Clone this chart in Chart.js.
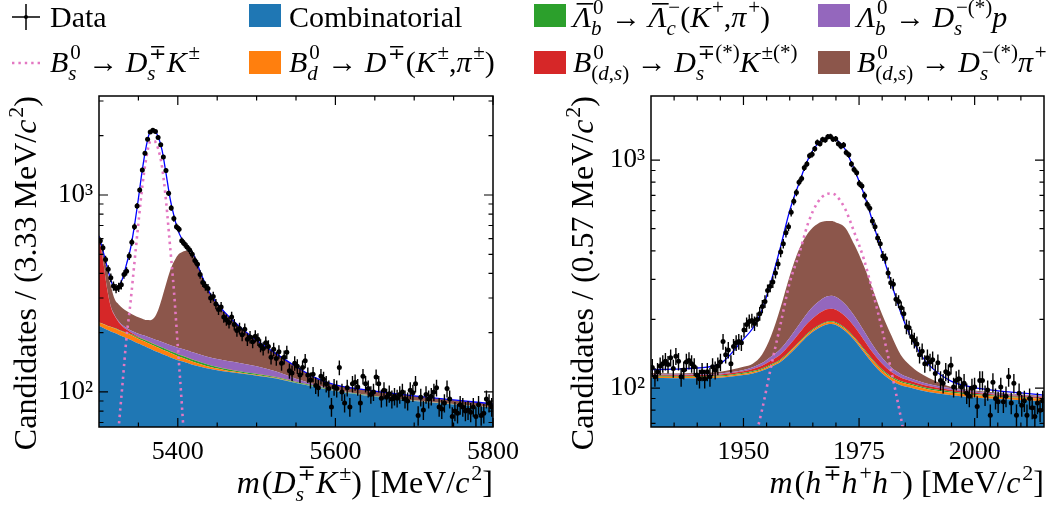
<!DOCTYPE html>
<html>
<head>
<meta charset="utf-8">
<script src="https://cdn.jsdelivr.net/npm/chart.js@4.4.1/dist/chart.umd.min.js"></script>
<style>
  html, body { margin: 0; padding: 0; background: #fff; overflow: hidden; font-family: "Liberation Serif", serif; }
  #wrap { position: relative; width: 1051px; height: 507px; }
  #left { position: absolute; left: 0; top: 0; }
  #right { position: absolute; left: 525px; top: 0; }
  .probe { position: absolute; left: -999px; top: 0; font-family: "Liberation Serif"; }
</style>
</head>
<body>
<div id="wrap">
  <canvas id="left" width="1051" height="507"></canvas>
  <canvas id="right" width="526" height="507"></canvas>
</div>
<span class="probe">x</span><span class="probe" style="font-style:italic">x</span>
<script>
// ---------- left panel: m(Ds K), 150 bins of 3.33 MeV ----------
const leftRange = [5300, 5800];
const leftYRange = [66.4, 3181];
const leftCounts = [
  585, 540, 470, 420, 380, 345, 335, 340, 350, 395, 410, 490, 575, 690, 880, 1060, 1340, 1630, 1920, 2090,
  2130, 2100, 1960, 1800, 1560, 1330, 1020, 860, 760, 690, 670, 585, 565, 545, 525, 500, 465, 445, 395, 360,
  345, 335, 300, 305, 280, 262, 270, 240, 232, 225, 240, 220, 205, 210, 195, 208, 185, 190, 180, 192,
  185, 172, 166, 178, 170, 150, 165, 148, 160, 140, 150, 159, 128, 125, 140, 135, 122, 133, 144, 122,
  115, 123, 108, 105, 120, 116, 110, 104, 84, 106, 104, 133, 100, 88, 105, 84, 110, 112, 106, 88,
  120, 110, 104, 97, 100, 119, 110, 93, 102, 94, 98, 92, 95, 93, 97, 100, 92, 90, 102, 99,
  110, 76, 94, 81, 97, 92, 95, 100, 105, 84, 82, 88, 104, 92, 75, 80, 78, 86, 84, 80,
  81, 79, 84, 75, 86, 76, 78, 92, 88, 84
];
const leftCurveX = [5300, 5305, 5310, 5315, 5320, 5325, 5330, 5335, 5340, 5345, 5350, 5355, 5360, 5365, 5370,
  5375, 5380, 5385, 5390, 5395, 5400, 5405, 5410, 5415, 5420, 5430, 5440, 5450, 5460, 5470, 5480, 5490, 5500,
  5525, 5550, 5575, 5600, 5650, 5700, 5750, 5800];
const leftComb = [216, 212, 207, 203, 199, 195, 191, 187.5, 184, 180, 176, 172.5, 169, 165.5, 162,
  159, 156, 153, 150, 147.5, 145, 143, 141, 139, 137, 134, 131, 129, 127, 125.5, 124, 122.5, 121,
  117, 111, 106, 101, 94.5, 90, 86.5, 83.5];
const leftBdDK = [9, 9.5, 10, 10.5, 11, 11, 11, 11, 11, 10.8, 10.5, 10.2, 10, 9.8, 9.5,
  9, 8.5, 8.2, 8, 7.5, 7, 6.5, 6, 5.5, 5, 4, 3.2, 2.5, 2, 1.5, 1.2, 1, 0.9,
  0.7, 0.5, 0.4, 0.3, 0.2, 0.2, 0.1, 0.1];
const leftLbLc = [0.3, 0.4, 0.5, 0.7, 1, 1.2, 1.5, 1.8, 2, 2.3, 2.5, 2.8, 3, 3.2, 3.3,
  3.4, 3.5, 3.5, 3.6, 3.6, 3.6, 3.6, 3.5, 3.4, 3.3, 3, 2.8, 2.5, 2.2, 2, 1.8, 1.6, 1.5,
  1.2, 1, 0.8, 0.6, 0.4, 0.3, 0.2, 0.1];
const leftBDsKst = [375, 248, 122, 56, 32, 19, 11.5, 7, 4, 2.5, 1.5, 1, 0.8, 0.6, 0.5,
  0.4, 0.4, 0.4, 0.3, 0.3, 0.3, 0.3, 0.3, 0.3, 0.3, 0.2, 0.2, 0.2, 0.2, 0.2, 0.2, 0.2, 0.2,
  0.1, 0.1, 0.1, 0.1, 0.1, 0.1, 0.1, 0.1];
const leftLbDsp = [0, 0.2, 0.5, 1, 1.5, 2.2, 3, 4, 5, 6, 7, 8, 9, 9.5, 10,
  10.5, 11, 11.2, 11.5, 11.8, 12, 12.2, 12.5, 12.8, 13, 13, 13, 13, 13, 13, 12.5, 12, 11.5,
  8, 4, 1.5, 0.5, 0.2, 0.1, 0.1, 0.1];
const leftBDspi = [12, 40, 80, 74, 51, 50, 48, 46, 44, 43, 42, 41, 40, 43, 53,
  78, 121, 176, 237, 287, 327, 346, 358, 351, 331, 236, 170, 133, 108, 88, 72, 59, 48,
  29, 18, 9, 6, 5.6, 4.8, 4, 3.1];
const leftBsDsK = [8, 12, 17, 25, 38, 66, 112, 190, 285, 455, 720, 1110, 1540, 1860, 1880,
  1720, 1390, 940, 560, 330, 170, 88, 42, 18, 8, 3, 1, 0.5, 0.3, 0.2, 0.1, 0.1, 0.1,
  0.1, 0.1, 0.1, 0.1, 0.1, 0.1, 0.1, 0.1];

// ---------- right panel: m(h h h), 150 bins of 0.57 MeV ----------
const rightRange = [1930, 2015];
const rightYRange = [67.5, 1910];
const rightCounts = [
  123, 112, 118, 125, 128, 131, 127, 136, 122, 138, 131, 112, 120, 130, 132, 128, 124, 114, 110, 118,
  110, 118, 112, 124, 120, 125, 130, 160, 140, 147, 128, 152, 158, 160, 158, 180, 190, 196, 198, 192,
  200, 212, 228, 240, 268, 280, 292, 320, 350, 395, 430, 480, 510, 590, 660, 720, 800, 830, 925, 960,
  1045, 1060, 1120, 1195, 1180, 1230, 1225, 1265, 1270, 1235, 1240, 1180, 1150, 1165, 1080, 1055, 960, 910, 880, 790,
  770, 700, 640, 615, 540, 510, 455, 430, 380, 370, 320, 290, 285, 245, 240, 225, 212, 186, 184, 168,
  162, 156, 140, 145, 128, 136, 130, 133, 116, 129, 108, 105, 118, 116, 126, 101, 108, 110, 101, 105,
  95, 92, 100, 101, 83, 108, 108, 93, 98, 76, 106, 90, 87, 101, 87, 92, 112, 86, 105, 76,
  95, 84, 88, 76, 90, 82, 75, 86, 80, 88
];
const rightCurveX = [1930, 1935, 1940, 1945, 1950, 1952, 1954, 1956, 1958, 1960, 1962, 1964, 1966, 1968, 1969,
  1970, 1972, 1974, 1976, 1978, 1980, 1982, 1984, 1986, 1988, 1990, 1995, 2000, 2005, 2010, 2015];
const rightComb = [111, 110.5, 110.5, 111, 114, 116, 119, 124, 130, 141, 155, 170, 182, 190, 191,
  189, 178, 162, 144, 128, 116, 108, 103, 100.5, 98, 96, 93, 91, 89.5, 88.5, 87.5];
const rightBdDK = [1.5, 1.5, 1.5, 1.5, 1.6, 1.6, 1.7, 2, 2.2, 2.5, 2.9, 3.2, 3.5, 3.7, 3.7,
  3.7, 3.6, 3.5, 3.4, 3.3, 3.2, 3.1, 3, 2.9, 2.8, 2.7, 2.5, 2.3, 2.2, 2.1, 2];
const rightLbLc = [1, 1, 1, 1, 1.1, 1.1, 1.1, 1.2, 1.3, 1.4, 1.5, 1.6, 1.7, 1.8, 1.8,
  1.8, 1.8, 1.7, 1.6, 1.5, 1.5, 1.4, 1.4, 1.3, 1.3, 1.2, 1.1, 1, 0.9, 0.9, 0.8];
const rightBDsKst = [0.8, 0.8, 1, 1.3, 1.8, 2.4, 3.4, 5, 7, 10, 14, 19, 23, 26, 26.5,
  26, 23, 18.5, 14, 10, 7, 5, 3.8, 3, 2.5, 2.2, 1.6, 1.2, 1, 0.8, 0.7];
const rightLbDsp = [0.8, 0.8, 0.9, 1.1, 1.5, 2.2, 3.5, 5.5, 8, 11.5, 16, 22, 27, 30.5, 31,
  30.5, 27, 21.5, 16, 11.5, 8, 5.5, 4, 3, 2.5, 2.2, 1.6, 1.2, 1, 0.8, 0.7];
const rightBDspi = [1.4, 1.4, 1.6, 2.1, 4, 4.7, 11.3, 32.3, 76.5, 143.6, 215.6, 264.2, 287.8, 288, 286,
  282, 271.6, 217.8, 166, 115.7, 74.3, 47, 24.8, 15.3, 9.9, 6.7, 1.2, 0.8, 0.7, 0.6, 0.5];
const rightBsDsK = [4, 5, 6, 10, 40, 55, 80, 125, 190, 290, 385, 530, 650, 710, 714,
  700, 610, 480, 370, 262, 180, 118, 75, 45, 27, 16, 6, 3, 2, 1.5, 1];

// ---------- ticks ----------
const leftXLabels = [5400, 5600, 5800];
const leftXMinor = [5350, 5450, 5500, 5550, 5650, 5700, 5750];
const rightXLabels = [1950, 1975, 2000];
const rightXMinor = [1935, 1940, 1945, 1955, 1960, 1965, 1970, 1980, 1985, 1990, 1995, 2005, 2010];
const yLabels = [100, 1000];
const yLabelText = { 100: '10²', 1000: '10³' };
const leftYMinor = [70, 80, 90, 200, 300, 400, 500, 600, 700, 800, 900, 2000, 3000];
const rightYMinor = [70, 80, 90, 200, 300, 400, 500, 600, 700, 800, 900];

// ---------- text (tokens: [text, flags]; i italic, b sub, p sup, o overline) ----------
const labelData = [['Data']];
const labelSignal = [['B', 'i'], ['s', 'ib'], ['0', 'p'], [' → '], ['D', 'i'], ['s', 'ib'], ['∓', 'p'], ['K', 'i'], ['±', 'p']];
const labelComb = [['Combinatorial']];
const labelBdDK = [['B', 'i'], ['d', 'ib'], ['0', 'p'], [' → '], ['D', 'i'], ['∓', 'p'], ['('], ['K', 'i'], ['±', 'p'], [','], ['π', 'i'], ['±', 'p'], [')']];
const labelLbLc = [['Λ', 'io'], ['b', 'ib'], ['0', 'p'], [' → '], ['Λ', 'io'], ['c', 'ib'], ['−', 'p'], ['('], ['K', 'i'], ['+', 'p'], [','], ['π', 'i'], ['+', 'p'], [')']];
const labelBDsKst = [['B', 'i'], ['(', 'b'], ['d', 'ib'], [',', 'b'], ['s', 'ib'], [')', 'b'], ['0', 'p'], [' → '], ['D', 'i'], ['s', 'ib'], ['∓(*)', 'p'], ['K', 'i'], ['±(*)', 'p']];
const labelLbDsp = [['Λ', 'i'], ['b', 'ib'], ['0', 'p'], [' → '], ['D', 'i'], ['s', 'ib'], ['−(*)', 'p'], ['p', 'i']];
const labelBDspi = [['B', 'i'], ['(', 'b'], ['d', 'ib'], [',', 'b'], ['s', 'ib'], [')', 'b'], ['0', 'p'], [' → '], ['D', 'i'], ['s', 'ib'], ['−(*)', 'p'], ['π', 'i'], ['+', 'p']];
const leftXTitle = [['m', 'i'], ['('], ['D', 'i'], ['s', 'ib'], ['∓', 'p'], ['K', 'i'], ['±', 'p'], [')'], [' [MeV/'], ['c', 'i'], ['2', 'p'], [']']];
const rightXTitle = [['m', 'i'], ['('], ['h', 'i'], ['∓', 'p'], ['h', 'i'], ['+', 'p'], ['h', 'i'], ['−', 'p'], [')'], [' [MeV/'], ['c', 'i'], ['2', 'p'], [']']];
const leftYTitle = [['Candidates / (3.33 MeV/'], ['c', 'i'], ['2', 'p'], [')']];
const rightYTitle = [['Candidates / (0.57 MeV/'], ['c', 'i'], ['2', 'p'], [')']];

const FONT = '"Liberation Serif", "DejaVu Serif", serif';
const LEGEND_SIZE = 30;
const TITLE_SIZE = 32;
const COLORS = ['#1f77b4', '#ff7f0e', '#2ca02c', '#d62728', '#9467bd', '#8c564b'];
const PINK = '#e377c2';

function layoutRich(ctx, tokens, size) {
  let x = 0, subPen = 0, supPen = 0;
  const items = [];
  for (const [t, f = ''] of tokens) {
    const sub = f.includes('b'), sup = f.includes('p');
    const fs = Math.round((sub || sup) ? size * 0.7 : size);
    const font = (f.includes('i') ? 'italic ' : '') + fs + 'px ' + FONT;
    ctx.font = font;
    const w = ctx.measureText(t).width;
    if (sub) { items.push({ t, font, x: subPen, dy: size * 0.25, w }); subPen += w; }
    else if (sup) { items.push({ t, font, x: supPen, dy: -size * 0.42, w }); supPen += w; }
    else {
      x = Math.max(x, subPen, supPen);
      items.push({ t, font, x, dy: 0, w, over: f.includes('o') });
      x += w;
      subPen = x;
      supPen = x + (f.includes('i') ? size * 0.06 : 0);
    }
  }
  return { items, width: Math.max(x, subPen, supPen) };
}

function drawRich(ctx, tokens, x, y, size, align, rot) {
  const L = layoutRich(ctx, tokens, size);
  const off = align === 'right' ? -L.width : 0;
  ctx.save();
  ctx.translate(x, y);
  ctx.rotate(rot || 0);
  ctx.fillStyle = '#000';
  ctx.textAlign = 'left';
  ctx.textBaseline = 'alphabetic';
  for (const it of L.items) {
    ctx.font = it.font;
    ctx.fillText(it.t, off + it.x, it.dy);
    if (it.over) ctx.fillRect(off + it.x + size * 0.12, -size * 0.8, it.w - size * 0.05, 1.6);
  }
  ctx.restore();
}

function makeFrame(t) {
  return {
    id: 'frame',
    afterDraw(chart) {
      const { ctx, chartArea: a, scales: { x, y } } = chart;
      ctx.save();
      ctx.strokeStyle = '#000';
      ctx.lineWidth = 1.2;
      ctx.beginPath();
      const xt = (v, len) => {
        const p = x.getPixelForValue(v);
        ctx.moveTo(p, a.bottom); ctx.lineTo(p, a.bottom - len);
        ctx.moveTo(p, a.top); ctx.lineTo(p, a.top + len);
      };
      const yt = (v, len) => {
        const p = y.getPixelForValue(v);
        ctx.moveTo(a.left, p); ctx.lineTo(a.left + len, p);
        ctx.moveTo(a.right, p); ctx.lineTo(a.right - len, p);
      };
      t.xMajor.forEach(v => xt(v, 9));
      t.xMinor.forEach(v => xt(v, 4.5));
      t.yMajor.forEach(v => yt(v, 9));
      t.yMinor.forEach(v => yt(v, 4.5));
      ctx.stroke();
      ctx.lineWidth = 1.5;
      ctx.strokeRect(a.left, a.top, a.right - a.left, a.bottom - a.top);
      ctx.restore();
    }
  };
}

function makeErrorBars(centers, counts, half) {
  return {
    id: 'errorBars',
    afterDatasetsDraw(chart) {
      const { ctx, chartArea: a, scales: { x, y } } = chart;
      ctx.save();
      ctx.beginPath();
      ctx.rect(a.left, a.top, a.right - a.left, a.bottom - a.top);
      ctx.clip();
      ctx.strokeStyle = '#000';
      ctx.lineWidth = 1.4;
      ctx.beginPath();
      counts.forEach((n, i) => {
        const px = x.getPixelForValue(centers[i]);
        const s = Math.sqrt(n);
        ctx.moveTo(px, y.getPixelForValue(n + s));
        ctx.lineTo(px, y.getPixelForValue(n - s));
        const py = y.getPixelForValue(n);
        ctx.moveTo(x.getPixelForValue(centers[i] - half), py);
        ctx.lineTo(x.getPixelForValue(centers[i] + half), py);
      });
      ctx.stroke();
      ctx.restore();
    }
  };
}

function makeTexts(list, legend) {
  return {
    id: 'texts',
    afterDraw(chart) {
      const ctx = chart.ctx;
      list.forEach(d => drawRich(ctx, d.tokens, d.x, d.y, TITLE_SIZE, d.align, d.rot));
      if (!legend) return;
      const markX = [12, 249, 534, 818], textX = [50, 289, 573, 857];
      const base = [27, 72], top = [4, 51];
      legend.forEach(e => {
        ctx.save();
        const mx = markX[e.col], r = e.row;
        if (e.kind === 'data') {
          ctx.strokeStyle = '#000'; ctx.lineWidth = 1.5;
          ctx.beginPath();
          ctx.moveTo(mx, 17); ctx.lineTo(mx + 28, 17);
          ctx.moveTo(mx + 14, 4); ctx.lineTo(mx + 14, 30);
          ctx.stroke();
          ctx.beginPath(); ctx.arc(mx + 14, 17, 2, 0, Math.PI * 2); ctx.fillStyle = '#000'; ctx.fill();
        } else if (e.kind === 'dots') {
          ctx.strokeStyle = e.color; ctx.lineWidth = 2.6; ctx.setLineDash([2.4, 4]);
          ctx.beginPath(); ctx.moveTo(mx, 63); ctx.lineTo(mx + 28, 63); ctx.stroke();
        } else {
          ctx.fillStyle = e.color;
          ctx.fillRect(mx, top[r], 32, 23);
        }
        ctx.restore();
        drawRich(ctx, e.label, textX[e.col], base[r], LEGEND_SIZE, 'left', 0);
      });
    }
  };
}

function buildPanel(canvas, p) {
  const n = p.counts.length;
  const w = (p.range[1] - p.range[0]) / n;
  const centers = p.counts.map((_, i) => p.range[0] + (i + 0.5) * w);
  let run = p.curveX.map(() => 0);
  const datasets = p.comps.map((vals, k) => {
    run = run.map((v, j) => v + vals[j]);
    return {
      data: p.curveX.map((x, j) => ({ x, y: run[j] })),
      backgroundColor: COLORS[k], borderWidth: 0, pointRadius: 0,
      fill: k === 0 ? 'start' : '-1', cubicInterpolationMode: 'monotone', order: 10
    };
  });
  datasets.push({
    data: p.curveX.map((x, j) => ({ x, y: p.signal[j] })),
    borderColor: PINK, borderWidth: 2.6, borderDash: [2.4, 4], pointRadius: 0, fill: false,
    cubicInterpolationMode: 'monotone', order: 3
  });
  datasets.push({
    data: p.curveX.map((x, j) => ({ x, y: run[j] + p.signal[j] })),
    borderColor: '#0000ff', borderWidth: 1.3, pointRadius: 0, fill: false,
    cubicInterpolationMode: 'monotone', order: 2
  });
  datasets.push({
    data: centers.map((x, i) => ({ x, y: p.counts[i] })),
    showLine: false, pointRadius: 2.5, pointBackgroundColor: '#000', pointBorderWidth: 0, order: 0
  });

  return new Chart(canvas, {
    type: 'line',
    data: { datasets },
    options: {
      responsive: false, animation: false, events: [],
      layout: { padding: { left: 0, top: 96, right: p.padRight, bottom: 0 } },
      plugins: { legend: { display: false }, tooltip: { enabled: false } },
      scales: {
        x: {
          type: 'linear', min: p.range[0], max: p.range[1],
          grid: { display: false, drawTicks: false }, border: { display: false },
          afterBuildTicks: s => { s.ticks = p.xLabels.map(v => ({ value: v })); },
          afterFit: s => { s.height = 80; },
          ticks: { font: { family: FONT, size: 26 }, color: '#000', padding: 10, maxRotation: 0, autoSkip: false,
                   callback: v => String(v) }
        },
        y: {
          type: 'logarithmic', min: p.yRange[0], max: p.yRange[1],
          grid: { display: false, drawTicks: false }, border: { display: false },
          afterBuildTicks: s => { s.ticks = yLabels.map(v => ({ value: v })); },
          afterFit: s => { s.width = p.yWidth; },
          ticks: { font: { family: FONT, size: 27 }, color: '#000', padding: 6, autoSkip: false,
                   callback: v => yLabelText[v] || '' }
        }
      }
    },
    plugins: [
      makeErrorBars(centers, p.counts, w / 2),
      makeFrame({ xMajor: p.xLabels, xMinor: p.xMinor, yMajor: yLabels, yMinor: p.yMinor }),
      makeTexts(p.texts, p.legend)
    ]
  });
}

function buildAll() {
  buildPanel(document.getElementById('left'), {
    range: leftRange, yRange: leftYRange, counts: leftCounts, curveX: leftCurveX,
    comps: [leftComb, leftBdDK, leftLbLc, leftBDsKst, leftLbDsp, leftBDspi], signal: leftBsDsK,
    xLabels: leftXLabels, xMinor: leftXMinor, yMinor: leftYMinor,
    padRight: 1051 - 493, yWidth: 99,
    texts: [
      { tokens: leftXTitle, x: 493, y: 493, align: 'right' },
      { tokens: leftYTitle, x: 36, y: 96, align: 'right', rot: -Math.PI / 2 }
    ],
    legend: [
      { kind: 'data', col: 0, row: 0, label: labelData },
      { kind: 'dots', col: 0, row: 1, color: PINK, label: labelSignal },
      { kind: 'patch', col: 1, row: 0, color: COLORS[0], label: labelComb },
      { kind: 'patch', col: 1, row: 1, color: COLORS[1], label: labelBdDK },
      { kind: 'patch', col: 2, row: 0, color: COLORS[2], label: labelLbLc },
      { kind: 'patch', col: 2, row: 1, color: COLORS[3], label: labelBDsKst },
      { kind: 'patch', col: 3, row: 0, color: COLORS[4], label: labelLbDsp },
      { kind: 'patch', col: 3, row: 1, color: COLORS[5], label: labelBDspi }
    ]
  });

  buildPanel(document.getElementById('right'), {
    range: rightRange, yRange: rightYRange, counts: rightCounts, curveX: rightCurveX,
    comps: [rightComb, rightBdDK, rightLbLc, rightBDsKst, rightLbDsp, rightBDspi], signal: rightBsDsK,
    xLabels: rightXLabels, xMinor: rightXMinor, yMinor: rightYMinor,
    padRight: 7, yWidth: 126,
    texts: [
      { tokens: rightXTitle, x: 519, y: 493, align: 'right' },
      { tokens: rightYTitle, x: 68, y: 96, align: 'right', rot: -Math.PI / 2 }
    ],
    legend: null
  });
}

// make sure the serif face is loaded before the canvases use it
Promise.all([
  document.fonts.load('30px "Liberation Serif"'),
  document.fonts.load('italic 30px "Liberation Serif"')
]).catch(() => {}).then(buildAll);
</script>
</body>
</html>
